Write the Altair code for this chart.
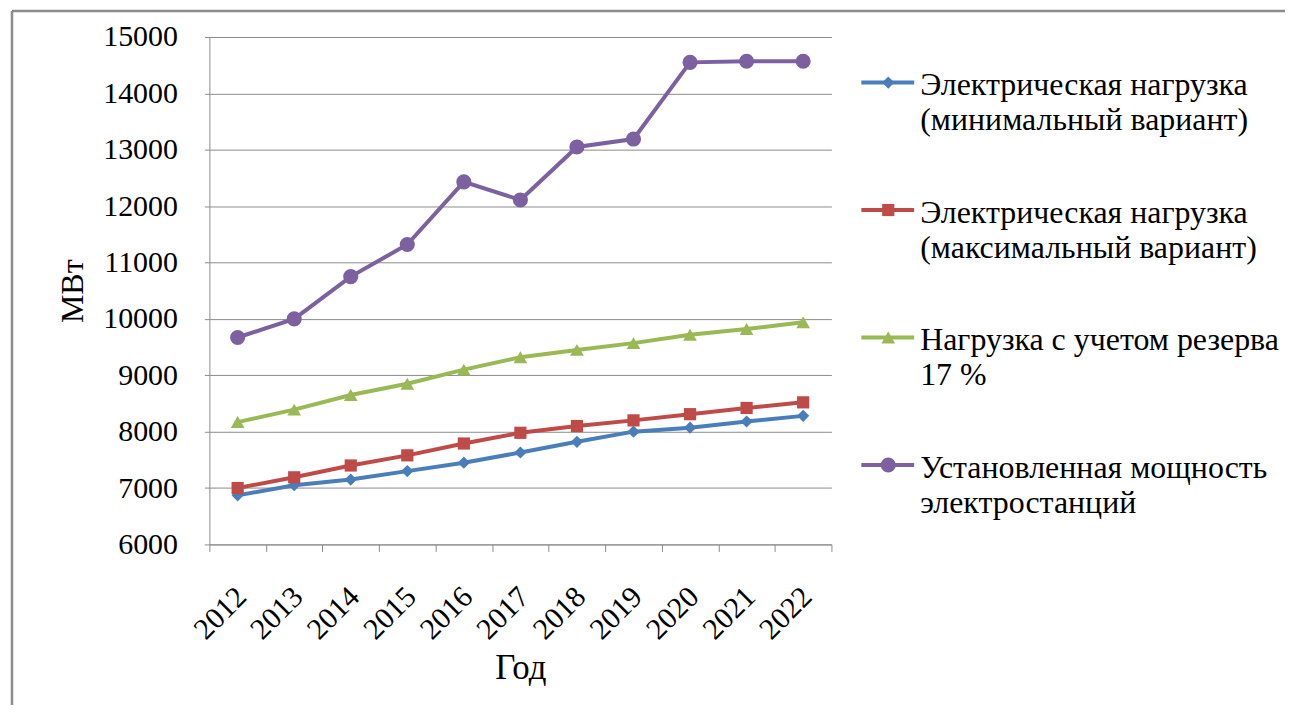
import altair as alt
import pandas as pd

years = ["2012", "2013", "2014", "2015", "2016", "2017", "2018", "2019", "2020", "2021", "2022"]
min_load = [6870, 7050, 7150, 7300, 7450, 7630, 7820, 8000, 8070, 8180, 8280]
max_load = [7000, 7190, 7400, 7580, 7790, 7980, 8100, 8200, 8310, 8420, 8520]
reserve = [8170, 8390, 8650, 8850, 9100, 9320, 9450, 9570, 9720, 9820, 9940]
installed = [9670, 10000, 10750, 11320, 12430, 12110, 13050, 13190, 14550, 14570, 14570]

series_names = [
    "Электрическая нагрузка (минимальный вариант)",
    "Электрическая нагрузка (максимальный вариант)",
    "Нагрузка с учетом резерва 17 %",
    "Установленная мощность электростанций",
]
legend_labels = [
    "Электрическая нагрузка\n(минимальный вариант)",
    "Электрическая нагрузка\n(максимальный вариант)",
    "Нагрузка с учетом резерва\n17 %",
    "Установленная мощность\nэлектростанций",
]
colors = ["#4A7EBB", "#BE4B48", "#98B954", "#7D60A0"]
shapes = ["diamond", "square", "triangle-up", "circle"]
sizes = [150, 150, 190, 230]

FONT = "'Liberation Serif', 'Times New Roman', 'DejaVu Serif', serif"
GRID = "#8C8C8C"

rows = []
for name, vals in zip(series_names, [min_load, max_load, reserve, installed]):
    for y, v in zip(years, vals):
        rows.append({"year": y, "value": v, "series": name})
df = pd.DataFrame(rows)

color_scale = alt.Scale(domain=series_names, range=colors)
shape_scale = alt.Scale(domain=series_names, range=shapes)
size_scale = alt.Scale(type="ordinal", domain=series_names, range=sizes)

base = alt.Chart(df).encode(
    x=alt.X(
        "year:O",
        sort=years,
        scale=alt.Scale(type="band", paddingInner=0, paddingOuter=0),
        axis=alt.Axis(
            labelAngle=-45,
            labelFont=FONT,
            labelFontSize=30,
            labelColor="black",
            labelPadding=30,
            labelOffset=-7,
            tickBand="extent",
            tickSize=7,
            tickColor=GRID,
            domainColor=GRID,
            grid=False,
            title="Год",
            titleFont=FONT,
            titleFontSize=35,
            titleFontWeight="normal",
            titleColor="black",
            titlePadding=6,
        ),
    ),
    y=alt.Y(
        "value:Q",
        scale=alt.Scale(domain=[6000, 15000], nice=False, zero=False),
        axis=alt.Axis(
            values=list(range(6000, 15001, 1000)),
            format="d",
            labelFont=FONT,
            labelFontSize=30,
            labelColor="black",
            labelPadding=27,
            tickSize=5,
            tickColor=GRID,
            domainColor=GRID,
            gridColor=GRID,
            grid=True,
            title="МВт",
            titleFont=FONT,
            titleFontSize=32,
            titleFontWeight="normal",
            titleColor="black",
            titlePadding=13,
        ),
    ),
    color=alt.Color("series:N", scale=color_scale, legend=None),
)

lines = base.mark_line(strokeWidth=4)
points = base.mark_point(filled=True, opacity=1).encode(
    shape=alt.Shape("series:N", scale=shape_scale, legend=None),
    size=alt.Size("series:N", scale=size_scale, legend=None),
)

frame_src = alt.Chart(pd.DataFrame({"k": [0]}))
frame_top = frame_src.mark_rule(color="#8C8C8C", strokeWidth=2.5).encode(
    x=alt.value(-198), x2=alt.value(1079), y=alt.value(-26)
)
frame_left = frame_src.mark_rule(color="#8C8C8C", strokeWidth=2.5).encode(
    x=alt.value(-198), y=alt.value(-26), y2=alt.value(670)
)

main = alt.layer(frame_top, frame_left, lines, points).properties(width=624, height=509)

leg_df = pd.DataFrame({"series": series_names, "label": legend_labels})
ly = alt.Y("series:N", sort=series_names, scale=alt.Scale(type="point", padding=0.49), axis=None)
lcolor = alt.Color("series:N", scale=color_scale, legend=None)
leg_base = alt.Chart(leg_df)
leg_rule = leg_base.mark_rule(strokeWidth=4, yOffset=-17).encode(
    x=alt.value(0), x2=alt.value(53), y=ly, color=lcolor
)
leg_pt = leg_base.mark_point(filled=True, opacity=1, yOffset=-17).encode(
    x=alt.value(27), y=ly, color=lcolor,
    shape=alt.Shape("series:N", scale=shape_scale, legend=None),
    size=alt.Size("series:N", scale=size_scale, legend=None),
)
leg_txt = leg_base.mark_text(
    align="left", baseline="middle", font=FONT, fontSize=32, lineHeight=35,
    lineBreak="\n", color="black", yOffset=-14,
).encode(x=alt.value(59), y=ly, text="label:N")

legend = alt.layer(leg_rule, leg_pt, leg_txt).properties(width=420, height=509)

chart = alt.hconcat(main, legend, spacing=30, bounds="flush").properties(
    padding={"left": 2, "top": 0, "right": 0, "bottom": 0}
).configure_view(stroke=None).configure_axis(labelOverlap=False)

chart.save("out.html", embed_options={"renderer": "svg", "actions": False})
